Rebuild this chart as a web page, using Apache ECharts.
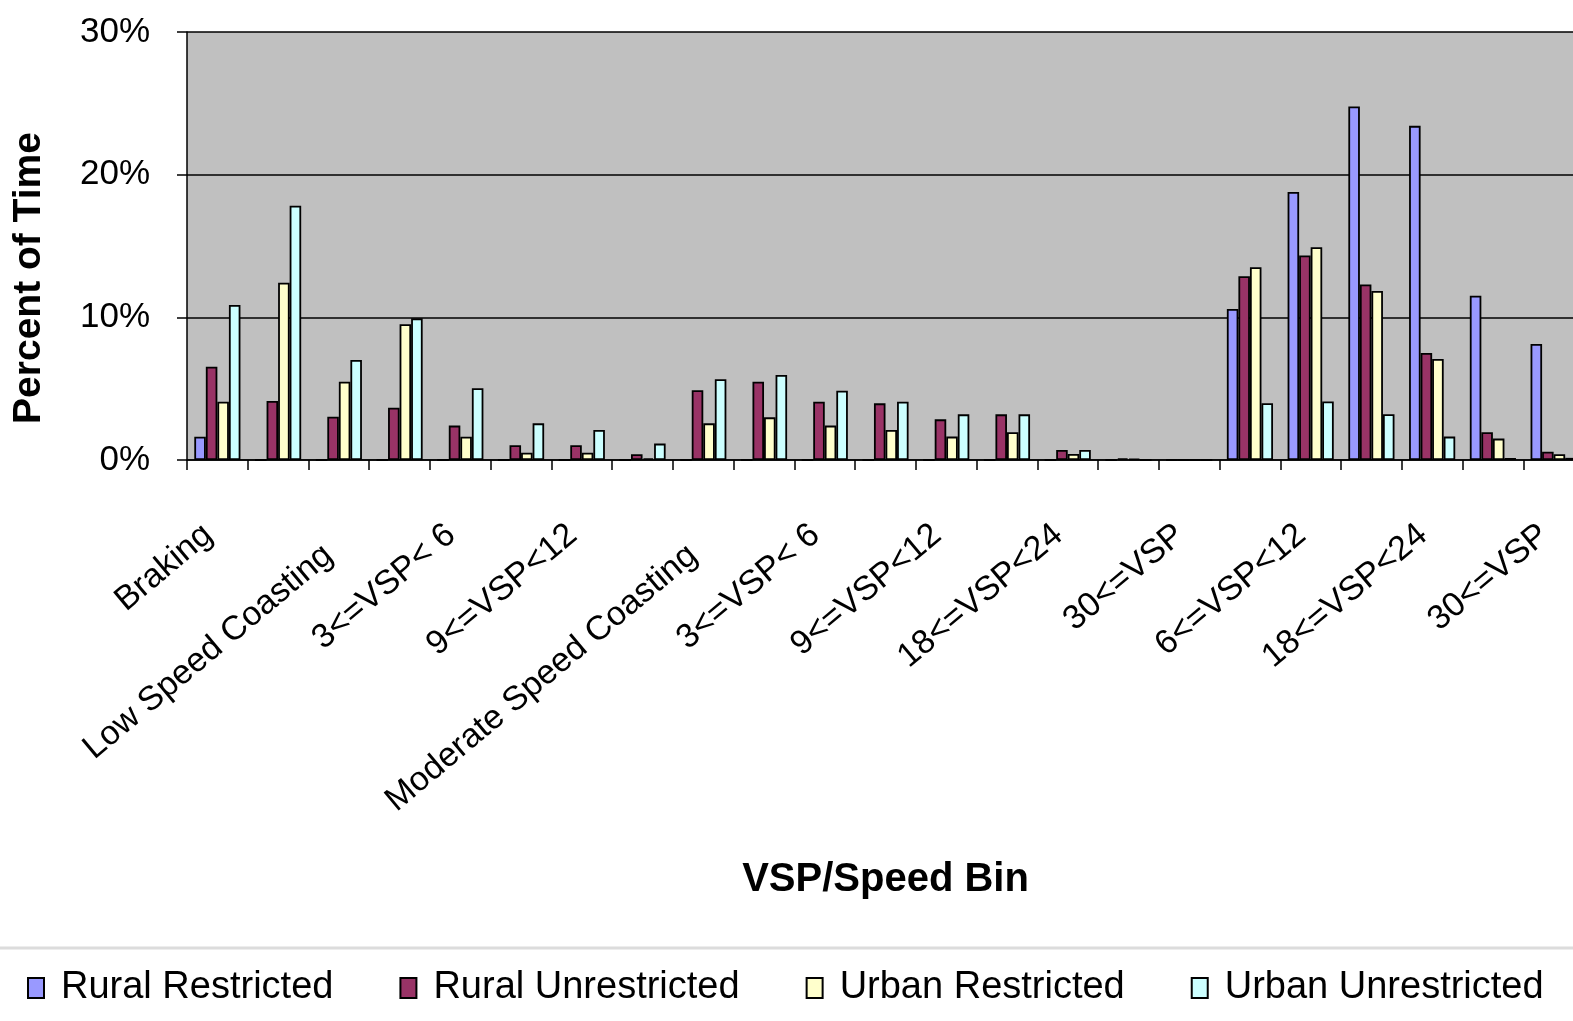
<!DOCTYPE html>
<html>
<head>
<meta charset="utf-8">
<script src="https://cdn.jsdelivr.net/npm/echarts@6/dist/echarts.min.js"></script>
<style>
html,body{margin:0;padding:0;background:#fff;overflow:hidden;}
#chart{width:1573px;height:1021px;}
</style>
</head>
<body>
<div id="chart"></div>
<script>
var categories = [
  "Braking", "Idle", "Low Speed Coasting", "0<=VSP<3", "3<=VSP< 6", "6<=VSP<9",
  "9<=VSP<12", "12<=VSP", "Moderate Speed Coasting", "0<=VSP<3", "3<=VSP< 6",
  "6<=VSP<9", "9<=VSP<12", "12<=VSP<18", "18<=VSP<24", "24<=VSP<30", "30<=VSP",
  "VSP<6", "6<=VSP<12", "12<=VSP<18", "18<=VSP<24", "24<=VSP<30", "30<=VSP"
];
var seriesNames = ["Rural Restricted", "Rural Unrestricted", "Urban Restricted", "Urban Unrestricted"];
var ruralRestricted   = [1.63, 0, 0, 0, 0, 0, 0, 0, 0, 0, 0, 0, 0, 0, 0, 0, 0, 10.59, 18.78, 24.78, 23.42, 11.52, 8.13];
var ruralUnrestricted = [6.54, 4.14, 3.04, 3.67, 2.41, 1.03, 1.03, 0.40, 4.89, 5.49, 4.09, 3.97, 2.85, 3.20, 0.70, 0.12, 0, 12.88, 14.34, 12.30, 7.50, 1.95, 0.58];
var urbanRestricted   = [4.09, 12.43, 5.49, 9.51, 1.63, 0.51, 0.51, 0.12, 2.57, 2.99, 2.41, 2.10, 1.64, 1.94, 0.42, 0.08, 0, 13.51, 14.92, 11.85, 7.08, 1.50, 0.40];
var urbanUnrestricted = [10.87, 17.83, 7.01, 9.93, 5.03, 2.57, 2.10, 1.15, 5.66, 5.96, 4.86, 4.09, 3.20, 3.20, 0.70, 0, 0, 3.98, 4.10, 3.21, 1.64, 0.14, 0.15];
var yTicks = [0, 10, 20, 30];
var colors = ["#9999FF", "#993366", "#FFFFCC", "#CCFFFF"];

var FONT = "'Liberation Sans', Arial, sans-serif";
var allData = [ruralRestricted, ruralUnrestricted, urbanRestricted, urbanUnrestricted];

var chart = echarts.init(document.getElementById('chart'), null, {renderer: 'canvas'});
var option = {
  animation: false,
  backgroundColor: '#ffffff',
  color: colors,
  grid: {
    left: 187, top: 32, width: 1397, height: 428,
    outerBoundsMode: 'none', containLabel: false,
    show: true, backgroundColor: '#C0C0C0', borderWidth: 0
  },
  legend: {
    data: seriesNames,
    left: 22, top: 964,
    icon: 'rect',
    itemWidth: 16, itemHeight: 20,
    itemGap: 66,
    textStyle: {fontFamily: FONT, fontSize: 38, color: '#000', padding: [0, 0, 0, 12]}
  },
  xAxis: {
    type: 'category',
    data: categories,
    name: 'VSP/Speed Bin',
    nameLocation: 'middle',
    nameGap: 400,
    nameTextStyle: {fontFamily: FONT, fontSize: 40, fontWeight: 'bold', color: '#000'},
    axisLine: {lineStyle: {color: '#000', width: 1.5}},
    axisTick: {show: true, interval: 0, length: 10, lineStyle: {color: '#000', width: 1.5}},
    axisLabel: {
      interval: 1, rotate: 40, margin: 63,
      fontFamily: FONT, fontSize: 34, color: '#000',
      formatter: function (v) {
        return v.length > 15 ? '{l|' + v + '}' : '{s|' + v + '}';
      },
      rich: {
        s: {fontFamily: FONT, fontSize: 34, color: '#000', padding: [0, 12, 0, 0]},
        l: {fontFamily: FONT, fontSize: 34, color: '#000', padding: [30, 26, 0, 0]}
      }
    },
    splitLine: {show: false}
  },
  yAxis: {
    type: 'value',
    min: yTicks[0], max: yTicks[yTicks.length - 1], interval: 10,
    axisLine: {show: true, lineStyle: {color: '#000', width: 1.5}},
    axisTick: {show: true, length: 10, lineStyle: {color: '#000', width: 1.5}},
    axisLabel: {formatter: '{value}%', margin: 37, fontFamily: FONT, fontSize: 35, color: '#000'},
    splitLine: {show: true, lineStyle: {color: '#000', width: 1.5}}
  },
  graphic: [
    {type: 'text', x: 29, y: 278, rotation: Math.PI / 2,
     style: {text: 'Percent of Time', font: 'bold 39px ' + FONT, fill: '#000', textAlign: 'center', textVerticalAlign: 'middle'}},
    {type: 'line', shape: {x1: 0, y1: 948, x2: 1573, y2: 948}, style: {stroke: '#dcdcdc', lineWidth: 3}}
  ],
  series: seriesNames.map(function (n, i) {
    return {
      name: n, type: 'bar', data: allData[i],
      barGap: '0%', barCategoryGap: '24%',
      itemStyle: {color: colors[i], borderColor: '#000', borderWidth: 1.8}
    };
  })
};
chart.setOption(option);
</script>
</body>
</html>
